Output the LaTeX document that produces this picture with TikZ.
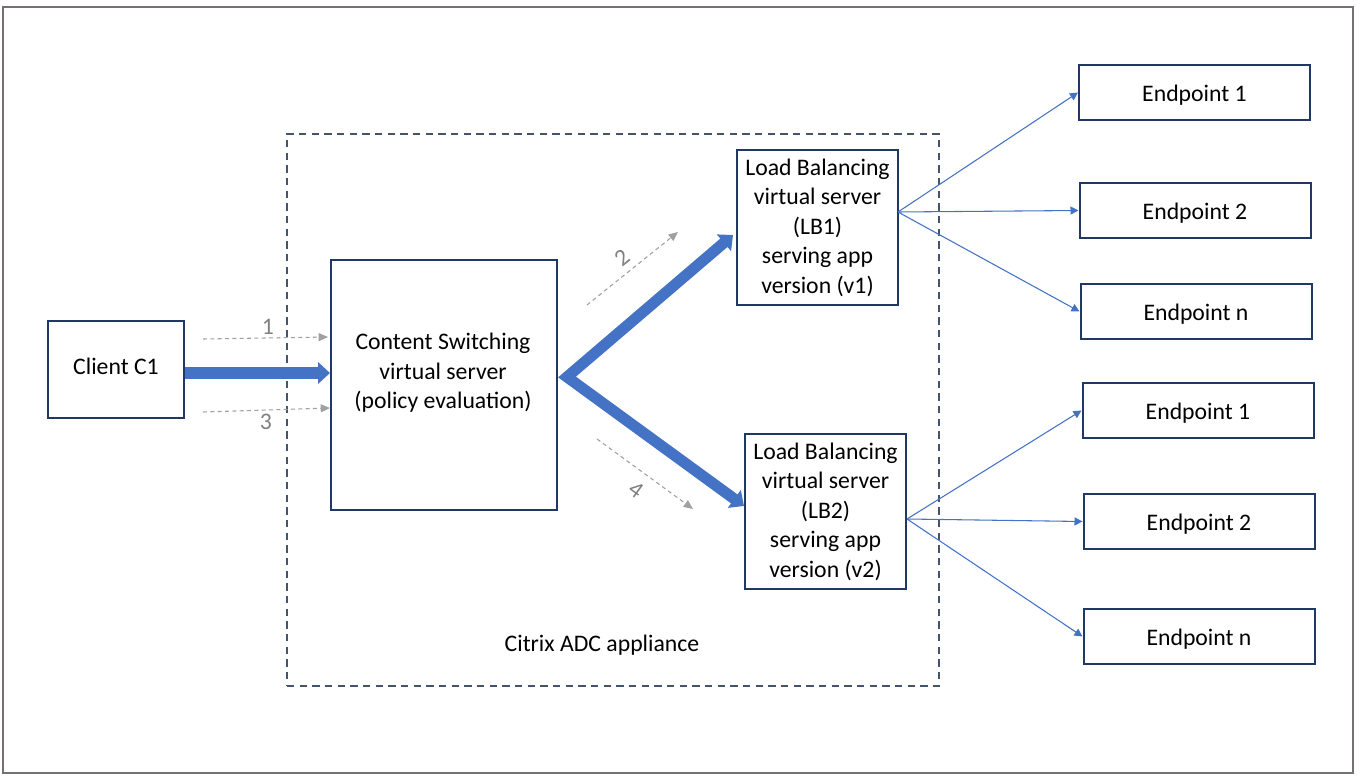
\documentclass[tikz,border=0pt]{standalone}
\usepackage{fontspec}
\setmainfont{Carlito}
\usetikzlibrary{arrows.meta}
\definecolor{navy}{HTML}{203864}
\definecolor{framec}{HTML}{767171}
\definecolor{dashc}{HTML}{44546A}
\definecolor{accent}{HTML}{4472C4}
\definecolor{hint}{HTML}{A0A0A0}
\definecolor{hintd}{HTML}{808080}
\tikzset{
  sz/.style 2 args={minimum width=#1*0.75pt, minimum height=#2*0.75pt},
  box/.style={draw=navy, line width=1.5pt, align=center, inner sep=0pt},
  epbox/.style={box, minimum width=231*0.75pt, minimum height=55*0.75pt, text height=17pt, text depth=3.6pt},
  frm/.style={draw=framec, line width=1.9pt, inner sep=0pt},
  adcbox/.style={draw=dashc, line width=1.5pt, dash pattern=on 5.5pt off 4pt, inner sep=0pt},
  big/.style={draw=accent, line width=8.3pt, line join=miter},
  fan/.style={draw=accent, line width=0.8pt, -{Triangle[length=6pt, width=6pt]}},
  hintarrow/.style={draw=hint, line width=0.8pt, dash pattern=on 3pt off 2.5pt, -{Triangle[length=7pt, width=6pt]}},
  num/.style={text=hintd, inner sep=0pt},
  lbl/.style={inner sep=0pt, align=center}
}
\begin{document}
\begin{tikzpicture}[x=0.75pt, y=-0.75pt, font=\fontsize{17.8}{22.1}\selectfont]
\useasboundingbox (0,0) rectangle (1360,781);
% outer frame
\node[frm, sz={1350}{766}] (frame) at (678,390) {};
% appliance
\node[adcbox, sz={652}{552}] (adc) at (613,410) {};
\node[lbl] (adclbl) at (602,645) {Citrix ADC appliance};
% main boxes
\node[box, sz={136}{97}, text depth=4.5pt] (client) at (116,369.5) {Client C1};
\node[box, sz={226}{250}] (cs) at (444,385) {};
\node[lbl] (cstext) at (443,373) {Content Switching\\virtual server\\(policy evaluation)};
\node[box, sz={161}{155}] (lb1) at (817.5,227.5) {Load Balancing\\virtual server\\(LB1)\\serving app\\version (v1)};
\node[box, sz={161}{155}] (lb2) at (825.5,511.5) {Load Balancing\\virtual server\\(LB2)\\serving app\\version (v2)};
% endpoints
\node[epbox] (a1) at (1194.5,92.5) {Endpoint 1};
\node[epbox] (a2) at (1195,210.5) {Endpoint 2};
\node[epbox] (an) at (1196,311.5) {Endpoint n};
\node[epbox] (b1) at (1198,410.5) {Endpoint 1};
\node[epbox] (b2) at (1199,521.5) {Endpoint 2};
\node[epbox] (bn) at (1199,636.5) {Endpoint n};
% big arrows
\draw[big, -{Triangle[length=9pt, width=16pt]}] (client.east |- 0,373) -- (cs.west |- 0,373);
\coordinate (v) at (567,377);
\coordinate (t1) at (733,235);
\coordinate (t2) at (744,506);
\draw[big, {Triangle[length=9pt, width=16pt]}-{Triangle[length=9pt, width=16pt]}] (t1) -- (v) -- (t2);
% fans
\coordinate (f1) at (898,212);
\coordinate (f2) at (907,519);
\draw[fan] (f1) -- (a1.west);
\draw[fan] (f1) -- (a2.west);
\draw[fan] (f1) -- (an.west);
\draw[fan] (f2) -- (b1.west);
\draw[fan] (f2) -- (b2.west);
\draw[fan] (f2) -- (bn.west);
% hint arrows
\coordinate (h1s) at (203,339); \coordinate (h1e) at (328,337);
\coordinate (h3s) at (203,412); \coordinate (h3e) at (330,408);
\coordinate (h2s) at (587,305); \coordinate (h2e) at (678,232);
\coordinate (h4s) at (597,439); \coordinate (h4e) at (693,509);
\draw[hintarrow] (h1s) -- (h1e);
\draw[hintarrow] (h3s) -- (h3e);
\draw[hintarrow] (h2s) -- (h2e);
\draw[hintarrow] (h4s) -- (h4e);
\node[num] (n1) at (268,327) {1};
\node[num] (n3) at (266,422) {3};
\node[num, rotate=39] (n2) at (622,258) {2};
\node[num, rotate=-36] (n4) at (636,490) {4};
\end{tikzpicture}
\end{document}
